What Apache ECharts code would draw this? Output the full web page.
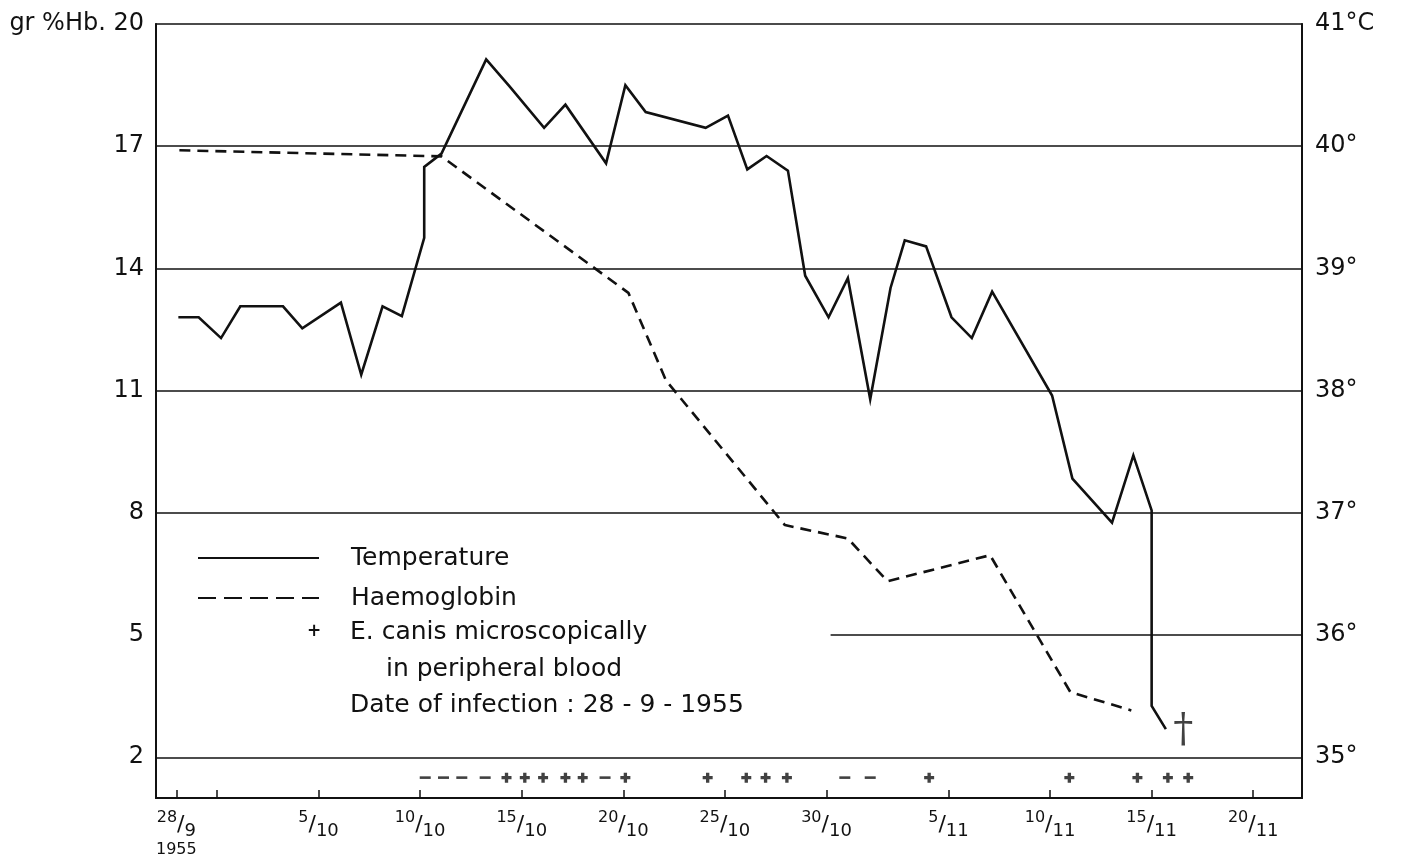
<!DOCTYPE html>
<html>
<head>
<meta charset="utf-8">
<title>E. canis – temperature and haemoglobin</title>
<script src="https://cdn.jsdelivr.net/npm/echarts/dist/echarts.min.js"></script>
<style>
  html, body { margin: 0; padding: 0; background: #fff; }
  #chart { width: 1403px; height: 865px; }
</style>
</head>
<body>
<div id="chart"></div>
<script>
// days counted from 28/9/1955 (day 0)
var tempDays   = [0.1, 1.1, 2.2, 3.15, 5.25, 6.2, 8.1, 9.1, 10.15, 11.1, 12.2, 12.2, 13.05, 15.25, 16.4, 18.1, 19.15, 21.15, 22.1, 23.1,
                  26.05, 27.15, 28.1, 29.05, 30.1, 30.95, 32.1, 33.05, 34.15, 35.15, 35.85, 36.9, 38.15, 39.15, 40.15, 43.1, 44.1, 46.05, 47.1, 48.0, 48.0, 48.7];
var tempValues = [38.6, 38.6, 38.43, 38.69, 38.69, 38.51, 38.72, 38.13, 38.69, 38.61, 39.25, 39.83, 39.94, 40.71, 40.49, 40.15, 40.34, 39.86, 40.5, 40.28,
                  40.15, 40.25, 39.81, 39.92, 39.8, 38.94, 38.6, 38.92, 37.93, 38.84, 39.23, 39.18, 38.6, 38.43, 38.81, 37.96, 37.28, 36.92, 37.47, 37.02, 35.42, 35.23];

var hbDays   = [0.15, 13.05, 22.25, 24.1, 29.95, 33.05, 35.0, 40.05, 44.0, 47.0];
var hbValues = [16.9, 16.75, 13.4, 11.25, 7.7, 7.37, 6.32, 6.96, 3.6, 3.15];

// E. canis found (+) / not found (-)
var plusDays  = [16.25, 17.15, 18.05, 19.15, 20.0, 22.1, 26.15, 28.05, 29.0, 30.05, 37.05, 43.95, 47.3, 48.8, 49.8];
var minusDays = [12.25, 13.15, 14.05, 15.2, 21.1, 32.9, 34.15];
var markerLevel = 1.5;

var deathDay = 49.55, deathLevel = 35.22;

// axes
var tickDays   = [0, 2, 7, 12, 17, 22, 27, 32, 38, 43, 48, 53];
var labelDays  = [0, 7, 12, 17, 22, 27, 32, 38, 43, 48, 53];
var labelDay   = ['28', '5', '10', '15', '20', '25', '30', '5', '10', '15', '20'];
var labelMonth = ['9', '10', '10', '10', '10', '10', '10', '11', '11', '11', '11'];
var hbTicks    = [2, 5, 8, 11, 14, 17, 20];
var tempTicks  = [35, 36, 37, 38, 39, 40, 41];
var hbGridLines = [2, 8, 11, 14, 17];
var shortLineFrom = 32.2;   // the 5 / 36° line only runs from here

var xMin = -1, xMax = 55.4;
var FONT = '"DejaVu Sans", "Liberation Sans", sans-serif';
var INK = '#111';

function zip(a, b) {
    var out = [];
    for (var i = 0; i < a.length; i++) out.push([a[i], b[i]]);
    return out;
}

var chart = echarts.init(document.getElementById('chart'));

var gridMarks = hbGridLines.map(function (v) { return { yAxis: v }; });
gridMarks.push([{ coord: [shortLineFrom, 5] }, { coord: [xMax, 5] }]);

var option = {
    backgroundColor: '#fff',
    animation: false,
    textStyle: { fontFamily: FONT, color: INK },
    grid: {
        left: 156, right: 101, top: 24, bottom: 67,
        show: true, borderColor: INK, borderWidth: 1.5
    },
    legend: {
        data: [
            { name: 'Temperature' },
            { name: 'Haemoglobin', lineStyle: { type: [18, 8] } }
        ],
        orient: 'vertical',
        left: 192, top: 539,
        itemWidth: 121, itemHeight: 14, itemGap: 12,
        itemStyle: { opacity: 0 },
        textStyle: { fontFamily: FONT, fontSize: 25, color: INK, lineHeight: 28, padding: [0, 0, 0, 27] }
    },
    xAxis: {
        type: 'value', min: xMin, max: xMax,
        splitLine: { show: false },
        axisLine: { onZero: false, lineStyle: { color: INK, width: 2 } },
        axisTick: { inside: true, length: 8, customValues: tickDays, lineStyle: { color: INK, width: 1.5 } },
        axisLabel: {
            customValues: labelDays,
            margin: 12,
            color: INK,
            formatter: function (v) {
                var i = labelDays.indexOf(v);
                if (i < 0) return '';
                var s = '{n|' + labelDay[i] + '}{s|/}{d|' + labelMonth[i] + '}';
                if (i === 0) s += '\n{y|1955}';
                return s;
            },
            rich: {
                n: { fontFamily: FONT, fontSize: 16, color: INK, verticalAlign: 'top', lineHeight: 30 },
                s: { fontFamily: FONT, fontSize: 22, color: INK, verticalAlign: 'middle', lineHeight: 30 },
                d: { fontFamily: FONT, fontSize: 18, color: INK, verticalAlign: 'bottom', lineHeight: 30 },
                y: { fontFamily: FONT, fontSize: 16, color: INK, lineHeight: 20 }
            }
        }
    },
    yAxis: [{
        type: 'value', min: 1, max: 20, interval: 1, position: 'left',
        splitLine: { show: false },
        axisTick: { show: false },
        axisLine: { show: true, onZero: false, lineStyle: { color: INK, width: 2 } },
        axisLabel: {
            margin: 12, fontFamily: FONT, fontSize: 24, color: INK, showMaxLabel: true,
            formatter: function (v) {
                if (hbTicks.indexOf(v) < 0) return '';
                return v === 20 ? 'gr %Hb. 20' : String(v);
            }
        }
    }, {
        type: 'value', min: 35 - 1 / 3, max: 41, interval: 1 / 3, position: 'right',
        splitLine: { show: false },
        axisTick: { show: false },
        axisLine: { show: true, onZero: false, lineStyle: { color: INK, width: 2 } },
        axisLabel: {
            margin: 13, fontFamily: FONT, fontSize: 24, color: INK, showMaxLabel: true,
            formatter: function (v) {
                var r = Math.round(v);
                if (Math.abs(v - r) > 1e-6 || tempTicks.indexOf(r) < 0) return '';
                return r === 41 ? '41°C' : r + '°';
            }
        }
    }],
    graphic: [
        { type: 'text', x: 314, y: 632, style: { text: '+', font: 'bold 17px ' + FONT, fill: INK, align: 'center', verticalAlign: 'middle' } },
        { type: 'text', x: 350, y: 632, style: { text: 'E. canis microscopically', font: '25px ' + FONT, fill: INK, verticalAlign: 'middle' } },
        { type: 'text', x: 386, y: 669, style: { text: 'in peripheral blood', font: '25px ' + FONT, fill: INK, verticalAlign: 'middle' } },
        { type: 'text', x: 350, y: 705, style: { text: 'Date of infection : 28 - 9 - 1955', font: '25px ' + FONT, fill: INK, verticalAlign: 'middle' } }
    ],
    series: [{
        name: 'Temperature',
        type: 'line',
        yAxisIndex: 1,
        data: zip(tempDays, tempValues),
        symbol: 'none',
        lineStyle: { color: INK, width: 2.6, join: 'miter' },
        itemStyle: { color: INK },
        z: 4
    }, {
        name: 'Haemoglobin',
        type: 'line',
        yAxisIndex: 0,
        data: zip(hbDays, hbValues),
        symbol: 'none',
        lineStyle: { color: INK, width: 2.6, type: [11, 7] },
        itemStyle: { color: INK },
        z: 3,
        markLine: {
            silent: true,
            symbol: ['none', 'none'],
            label: { show: false },
            lineStyle: { color: INK, width: 1.5, type: 'solid' },
            data: gridMarks
        }
    }, {
        name: 'E. canis +',
        type: 'scatter',
        yAxisIndex: 0,
        data: plusDays.map(function (d) { return [d, markerLevel]; }),
        symbol: 'path://M3,0H6V3H9V6H6V9H3V6H0V3H3Z',
        symbolSize: 10,
        itemStyle: { color: INK }
    }, {
        name: 'E. canis -',
        type: 'scatter',
        yAxisIndex: 0,
        data: minusDays.map(function (d) { return [d, markerLevel]; }),
        symbol: 'rect',
        symbolSize: [11, 2.6],
        itemStyle: { color: INK }
    }, {
        name: 'death',
        type: 'scatter',
        yAxisIndex: 1,
        data: [[deathDay, deathLevel]],
        symbolSize: 1,
        itemStyle: { color: 'rgba(0,0,0,0)' },
        label: { show: true, position: 'inside', formatter: '\u2020', fontFamily: '"DejaVu Serif", serif', fontSize: 40, color: INK }
    }]
};

chart.setOption(option);
</script>
</body>
</html>
